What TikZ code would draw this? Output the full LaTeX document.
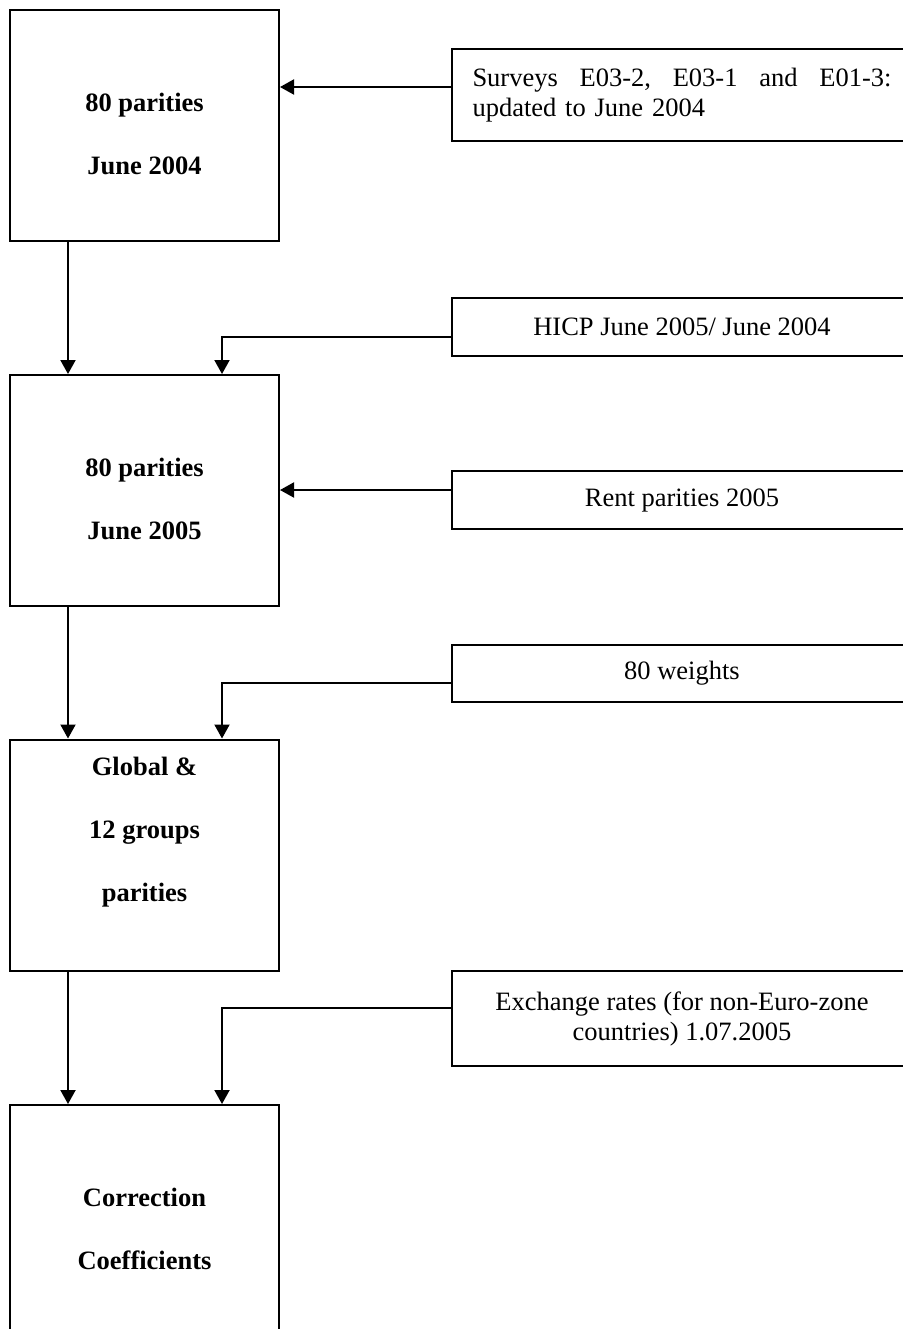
\documentclass[tikz,border=0pt]{standalone}
\usepackage{fontspec}
\setmainfont{Liberation Serif}
\usetikzlibrary{arrows.meta}
\begin{document}
\begin{tikzpicture}[x=0.5pt,y=-0.5pt,
  bigbox/.style={draw,line width=1pt,minimum width=134.5pt,minimum height=115.5pt,inner sep=0pt},
  srcbox/.style={draw,line width=1pt,minimum width=230pt,inner sep=0pt,align=center,
    font=\fontsize{13.25pt}{15pt}\selectfont},
  boldtxt/.style={align=center,inner sep=0pt,font=\fontsize{13.25pt}{31.5pt}\selectfont\bfseries},
  arr/.style={line width=1pt,-{Triangle[length=7pt,width=7.5pt]}}]
\useasboundingbox (0,0) rectangle (903,1329);
\clip (0,0) rectangle (903,1329);
% left column boxes
\node[bigbox] (b1) at (144.5,125) {};
\node[bigbox] (b2) at (144.5,490.5) {};
\node[bigbox] (b3) at (144.5,855) {};
\node[bigbox] (b4) at (144.5,1220.5) {};
\node[boldtxt] (t1) at (144.5,133.5) {80 parities\\June 2004};
\node[boldtxt] (t2) at (144.5,498.5) {80 parities\\June 2005};
\node[boldtxt] (t3) at (144.5,832) {Global \&\\12 groups\\parities};
\node[boldtxt] (t4) at (144.5,1228.5) {Correction\\Coefficients};
% right column boxes
\node[srcbox,text width=209.5pt,align=left,minimum height=46pt] (r1) at (682,95)
  {\hbox to 209.5pt{Surveys\hfill E03-2,\hfill E03-1\hfill and\hfill E01-3:}\\updated to June 2004};
\node[srcbox,minimum height=29pt] (r2) at (682,327) {HICP June 2005/ June 2004};
\node[srcbox,minimum height=29pt] (r3) at (682,500) {Rent parities 2005};
\node[srcbox,minimum height=28.5pt] (r4) at (682,673.5) {80 weights};
\node[srcbox,minimum height=47.5pt] (r5) at (682,1018.5) {Exchange rates (for non-Euro-zone\\countries) 1.07.2005};
% connectors
\coordinate (c1) at ([yshift=4pt]r1.west);
\coordinate (c2) at ([yshift=-5pt]r2.west);
\coordinate (c3) at ([yshift=5pt]r3.west);
\coordinate (c4) at ([yshift=-4.75pt]r4.west);
\coordinate (c5) at ([yshift=5.25pt]r5.west);
\draw[arr] (c1) -- (c1 -| b1.east);
\draw[arr] (c2) -| ([xshift=38.75pt]b2.north);
\draw[arr] (c3) -- (c3 -| b2.east);
\draw[arr] (c4) -| ([xshift=38.75pt]b3.north);
\draw[arr] (c5) -| ([xshift=38.75pt]b4.north);
\draw[arr] ([xshift=-38.25pt]b1.south) -- ([xshift=-38.25pt]b2.north);
\draw[arr] ([xshift=-38.25pt]b2.south) -- ([xshift=-38.25pt]b3.north);
\draw[arr] ([xshift=-38.25pt]b3.south) -- ([xshift=-38.25pt]b4.north);
\end{tikzpicture}
\end{document}
